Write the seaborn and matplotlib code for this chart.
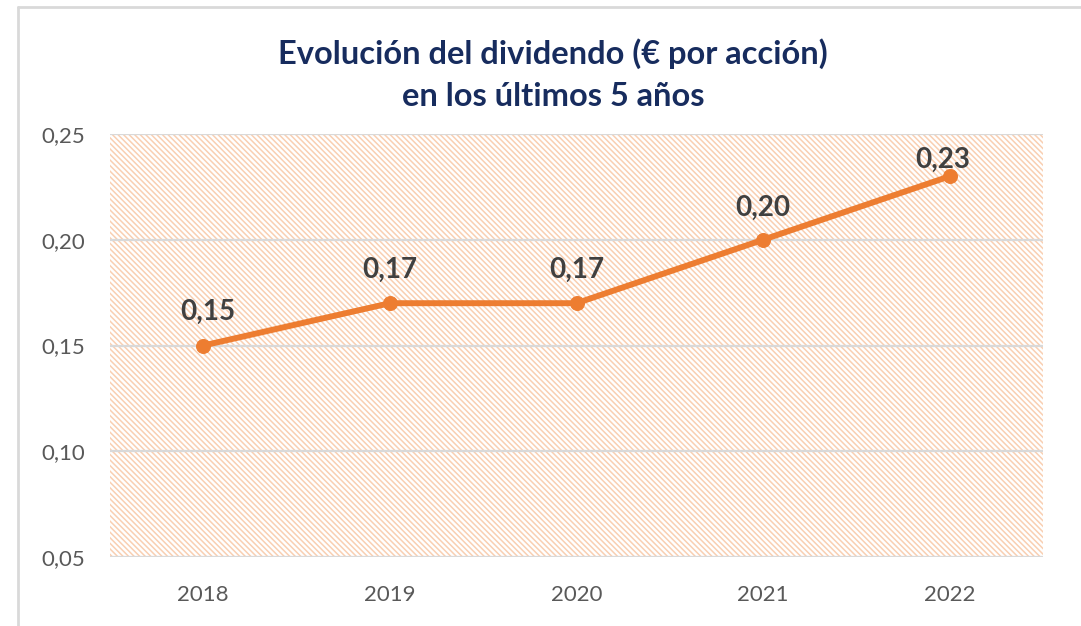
import matplotlib.pyplot as plt
import numpy as np
import pandas as pd
import seaborn as sns
from matplotlib.lines import Line2D
from matplotlib.patches import Rectangle

# datos
YEARS = ["2018", "2019", "2020", "2021", "2022"]
DIVIDEND = [0.15, 0.17, 0.17, 0.20, 0.23]
Y_TICKS = [0.05, 0.10, 0.15, 0.20, 0.25]
TITLE = "Evolución del dividendo (€ por acción)\nen los últimos 5 años"

ORANGE = "#ED7D31"
HATCH_COLOR = "#F9CFB2"
GRID = "#D9D9D9"
NAVY = "#172C5E"

sns.set_theme(style="white")
plt.rcParams["font.family"] = ["Lato", "DejaVu Sans"]
plt.rcParams["hatch.linewidth"] = 1.1

df = pd.DataFrame({"pos": np.arange(len(YEARS)), "year": YEARS, "value": DIVIDEND})

fig = plt.figure(figsize=(10.81, 6.26), dpi=100)
ax = fig.add_axes([110 / 1081, 69 / 626, 933 / 1081, 423 / 626])

ax.set_xlim(-0.5, len(YEARS) - 0.5)
ax.set_ylim(Y_TICKS[0], Y_TICKS[-1])

# fondo rayado
ax.add_patch(Rectangle((0, 0), 1, 1, transform=ax.transAxes, facecolor="white",
                       edgecolor=HATCH_COLOR, hatch="\\" * 6, linewidth=0, zorder=0))

for t in Y_TICKS:
    ax.axhline(t, color=GRID, linewidth=1.6, zorder=1)

sns.lineplot(data=df, x="pos", y="value", ax=ax, color=ORANGE, linewidth=4.3,
             marker="o", markersize=10, markeredgecolor=ORANGE, zorder=3)

# etiquetas de datos
offsets = [(3, 24), (0, 24), (0, 24), (0, 23), (-5, 12)]
for i, v in enumerate(DIVIDEND):
    ax.annotate(f"{v:.2f}".replace(".", ","), (i, v), xytext=offsets[i],
                textcoords="offset points", ha="center", va="center",
                fontsize=20, fontweight="bold", color="#404040", zorder=4)

ax.set_xticks(df["pos"])
ax.set_xticklabels(YEARS)
ax.set_yticks(Y_TICKS)
ax.set_yticklabels([f"{t:.2f}".replace(".", ",") for t in Y_TICKS])
ax.tick_params(axis="both", length=0, labelsize=16, labelcolor="#595959")
ax.tick_params(axis="x", pad=20)
ax.tick_params(axis="y", pad=18)
ax.set_xlabel("")
ax.set_ylabel("")
for s in ax.spines.values():
    s.set_visible(False)

fig.text(553 / 1081, 1 - 75 / 626, TITLE, ha="center", va="center", fontsize=23.5,
         fontweight="bold", color=NAVY, linespacing=1.55)

# marco del gráfico
fig.add_artist(Line2D([18 / 1081, 18 / 1081], [0, 1 - 7 / 626], color=GRID, linewidth=2,
                      transform=fig.transFigure))
fig.add_artist(Line2D([18 / 1081, 1], [1 - 7 / 626, 1 - 7 / 626], color=GRID, linewidth=2,
                      transform=fig.transFigure))

fig.savefig("out.png", dpi=100)
